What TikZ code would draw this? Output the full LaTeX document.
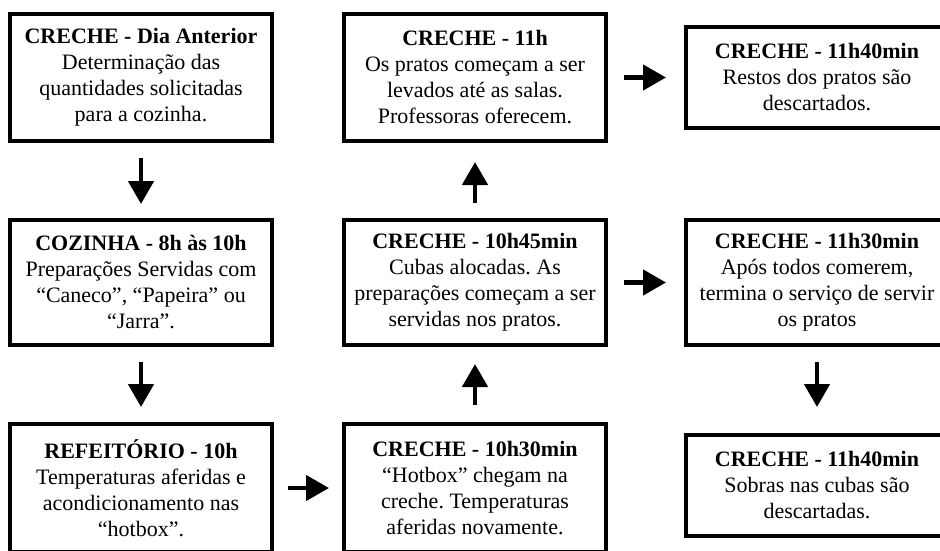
\documentclass[tikz,border=0pt]{standalone}
\usepackage{fontspec}
\setmainfont{Liberation Serif}
\usetikzlibrary{arrows.meta}
\frenchspacing
\tikzset{
  stagebox/.style={draw=black, line width=4pt, fill=white, align=center, inner sep=0pt,
    minimum width=262pt, font=\fontsize{22}{26}\selectfont\frenchspacing},
  flowarrow/.style={line width=4.5pt, -{Triangle[length=23pt,width=25pt]}}
}
\begin{document}
\begin{tikzpicture}[x=1pt,y=-1pt]
\useasboundingbox (0,0) rectangle (940,550);
\clip (0,0) rectangle (940,550);
\fill[white] (0,0) rectangle (940,550);
% column 1
\node[stagebox, minimum height=127pt] (a1) at (141,77.5)
  {\textbf{CRECHE - Dia Anterior}\\Determinação das\\quantidades solicitadas\\para a cozinha.};
\node[stagebox, minimum height=125pt] (a2) at (141,282.5)
  {\textbf{COZINHA - 8h às 10h}\\Preparações Servidas com\\“Caneco”, “Papeira” ou\\“Jarra”.};
\node[stagebox, minimum height=128pt] (a3) at (141,488)
  {\textbf{REFEITÓRIO - 10h}\\Temperaturas aferidas e\\acondicionamento nas\\“hotbox”.};
% column 2
\node[stagebox, minimum height=127pt] (b1) at (475,77.5)
  {\textbf{CRECHE - 11h}\\Os pratos começam a ser\\levados até as salas.\\Professoras oferecem.};
\node[stagebox, minimum height=125pt] (b2) at (475,282.5)
  {\textbf{CRECHE - 10h45min}\\Cubas alocadas. As\\preparações começam a ser\\servidas nos pratos.};
\node[stagebox, minimum height=128pt] (b3) at (475,488)
  {\textbf{CRECHE - 10h30min}\\“Hotbox” chegam na\\creche. Temperaturas\\aferidas novamente.};
% column 3
\node[stagebox, minimum height=101pt] (c1) at (817,77.5)
  {\textbf{CRECHE - 11h40min}\\Restos dos pratos são\\descartados.};
\node[stagebox, minimum height=125pt] (c2) at (817,282.5)
  {\textbf{CRECHE - 11h30min}\\Após todos comerem,\\termina o serviço de servir\\os pratos};
\node[stagebox, minimum height=101pt] (c3) at (817,485.5)
  {\textbf{CRECHE - 11h40min}\\Sobras nas cubas são\\descartadas.};
% arrows
\draw[flowarrow, shorten <=15pt, shorten >=14pt] (a1.south) -- (a2.north);
\draw[flowarrow, shorten <=15pt, shorten >=15pt] (a2.south) -- (a3.north);
\draw[flowarrow, shorten <=14pt, shorten >=13pt] (a3.east) -- (b3.west);
\draw[flowarrow, shorten <=17pt, shorten >=17pt] (b3.north) -- (b2.south);
\draw[flowarrow, shorten <=15pt, shorten >=19pt] (b2.north) -- (b1.south);
\draw[flowarrow, shorten <=16pt, shorten >=18pt] (b1.east |- c1.west) -- (c1.west);
\draw[flowarrow, shorten <=16pt, shorten >=18pt] (b2.east) -- (c2.west);
\draw[flowarrow, shorten <=15pt, shorten >=26pt] (c2.south) -- (c3.north);
\end{tikzpicture}
\end{document}
